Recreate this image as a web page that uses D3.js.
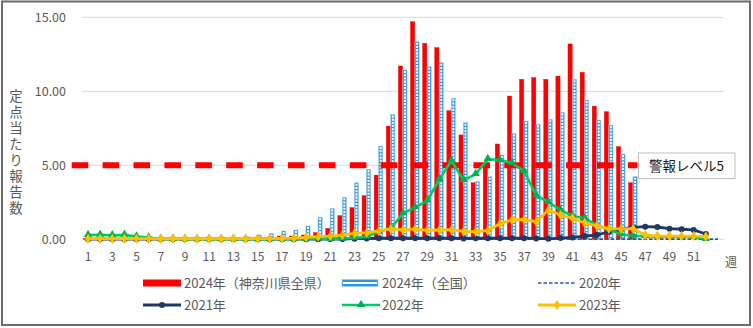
<!DOCTYPE html>
<html><head><meta charset="utf-8">
<script src="https://cdn.jsdelivr.net/npm/d3@7"></script>
<style>
html,body{margin:0;padding:0;background:#fff;}
svg{display:block;font-family:"Noto Sans CJK JP","Noto Sans",sans-serif;}
</style></head>
<body><svg id="c" width="753" height="328"></svg>
<script>
// ---- data ----
const weeks = ["1","2","3","4","5","6","7","8","9","10","11","12","13","14","15","16","17","18","19","20","21","22","23","24","25","26","27","28","29","30","31","32","33","34","35","36","37","38","39","40","41","42","43","44","45","46","47","48","49","50","51","52","53"];
const tickLabels = ["1","3","5","7","9","11","13","15","17","19","21","23","25","27","29","31","33","35","37","39","41","43","45","47","49","51"];
const yTicks = [0,5,10,15];
const alertLevel = 5;
const alertLabel = "警報レベル5";
const yTitle = "定点当たり報告数";
const xUnit = "週";

const kanagawa2024 = [0.05,0.05,0.04,0.05,0.03,0.03,0.02,0.03,0.02,0.03,0.03,0.04,0.05,0.06,0.08,0.12,0.22,0.22,0.29,0.45,0.74,1.60,2.14,2.95,4.34,7.65,11.71,14.70,13.24,12.95,8.69,7.05,3.82,4.95,6.44,9.68,10.81,10.92,10.81,11.03,13.20,11.28,9.00,8.62,6.26,3.82];
const national2024 = [0.10,0.08,0.07,0.07,0.06,0.06,0.05,0.06,0.06,0.07,0.08,0.10,0.13,0.18,0.29,0.40,0.56,0.63,0.90,1.49,2.09,2.84,3.82,4.73,6.30,8.44,11.44,13.35,11.66,11.93,9.53,7.88,3.90,4.23,5.70,7.16,7.99,7.77,8.11,8.58,10.81,9.41,8.06,7.72,5.76,4.23];
const y2020 = [0.03,0.03,0.02,0.03,0.02,0.02,0.02,0.01,0.01,0.01,0.01,0.01,0.01,0.00,0.00,0.00,0.00,0.00,0.00,0.00,0.00,0.00,0.00,0.00,0.00,0.00,0.00,0.00,0.00,0.00,0.00,0.00,0.00,0.00,0.00,0.00,0.00,0.00,0.00,0.00,0.00,0.00,0.01,0.01,0.01,0.01,0.01,0.01,0.01,0.01,0.01,0.01,0.01];
const y2021 = [0.01,0.01,0.01,0.01,0.01,0.01,0.01,0.01,0.01,0.01,0.01,0.01,0.01,0.01,0.01,0.01,0.01,0.01,0.01,0.01,0.02,0.02,0.04,0.05,0.07,0.07,0.07,0.07,0.07,0.07,0.07,0.06,0.07,0.07,0.07,0.07,0.07,0.06,0.03,0.08,0.13,0.22,0.29,0.51,0.70,0.81,0.85,0.83,0.72,0.68,0.63,0.36];
const y2022 = [0.29,0.30,0.27,0.30,0.18,0.12,0.04,0.03,0.02,0.02,0.02,0.02,0.02,0.02,0.02,0.02,0.02,0.02,0.03,0.05,0.03,0.05,0.10,0.18,0.51,0.74,1.76,2.16,2.61,4.05,5.31,4.00,4.40,5.42,5.36,5.15,4.60,2.96,2.52,1.98,1.58,1.42,0.95,0.68,0.33,0.24,0.22,0.18,0.18,0.17,0.16,0.02];
const y2023 = [0.04,0.04,0.04,0.04,0.04,0.04,0.03,0.03,0.03,0.03,0.03,0.03,0.03,0.04,0.04,0.05,0.06,0.08,0.13,0.18,0.22,0.29,0.40,0.45,0.57,0.70,0.63,0.70,0.60,0.63,0.65,0.53,0.51,0.60,1.05,1.32,1.33,1.19,1.98,1.64,1.42,1.10,0.90,0.72,0.70,0.72,0.29,0.22,0.22,0.22,0.22,0.18];

const legendItems = [
  {key:"kan", label:"2024年（神奈川県全県）"},
  {key:"nat", label:"2024年（全国）"},
  {key:"y2020", label:"2020年"},
  {key:"y2021", label:"2021年"},
  {key:"y2022", label:"2022年"},
  {key:"y2023", label:"2023年"}
];

// ---- layout ----
const svg = d3.select("#c");
const W = 753, H = 328;
const plot = {left:82, right:724, top:17.3, bottom:239.3};
const txtColor = "#595959";

svg.append("rect").attr("x",0).attr("y",0).attr("width",W).attr("height",H).attr("fill","#fff");
svg.append("rect").attr("x",2).attr("y",1.5).attr("width",748).attr("height",323.5)
  .attr("fill","none").attr("stroke","#6b6b6b").attr("stroke-width",2);

const x = d3.scaleBand().domain(weeks).range([plot.left, plot.right]).padding(0);
const y = d3.scaleLinear().domain([0,15]).range([plot.bottom, plot.top]);
const sub = d3.scaleBand().domain(["kan","nat"]).range([-4.6, 4.0]).paddingInner(0.05);
const cx = w => x(w) + x.bandwidth()/2;

// gridlines
svg.append("g").selectAll("line").data(yTicks).join("line")
  .attr("x1",plot.left).attr("x2",plot.right)
  .attr("y1",d=>y(d)).attr("y2",d=>y(d))
  .attr("stroke","#d9d9d9").attr("stroke-width",1);

// y axis
const ya = svg.append("g").attr("transform",`translate(${plot.left},0)`)
  .call(d3.axisLeft(y).tickValues(yTicks).tickFormat(d3.format(".2f")).tickSize(0).tickPadding(16));
ya.select(".domain").remove();
ya.selectAll("text").attr("fill",txtColor).attr("font-size",12.5).attr("font-family","'Noto Sans CJK JP',sans-serif");

// x axis
const xa = svg.append("g").attr("transform",`translate(0,${plot.bottom})`)
  .call(d3.axisBottom(x).tickValues(tickLabels).tickSize(0).tickPadding(13));
xa.select(".domain").remove();
xa.selectAll("text").attr("fill",txtColor).attr("font-size",12).attr("font-family","'Noto Sans CJK JP',sans-serif");

svg.append("text").attr("x",731).attr("y",267).attr("text-anchor","middle")
  .attr("fill",txtColor).attr("font-size",12).text(xUnit);

// y title (vertical)
svg.append("text").attr("x",16).attr("y",153)
  .attr("text-anchor","middle")
  .style("writing-mode","vertical-rl")
  .style("letter-spacing","2.4px")
  .attr("fill",txtColor).attr("font-size",13.5).text(yTitle);

// bars
const kanData = kanagawa2024.map((v,i)=>({w:weeks[i],v}));
const natData = national2024.map((v,i)=>({w:weeks[i],v}));
svg.append("g").selectAll("rect").data(kanData).join("rect")
  .attr("x",d=>cx(d.w)+sub("kan")).attr("width",sub.bandwidth())
  .attr("y",d=>y(d.v)).attr("height",d=>y(0)-y(d.v))
  .attr("fill","#ff0000").attr("stroke","#e00000").attr("stroke-width",0.4);
const ng = svg.append("g");
ng.selectAll("rect").data(natData).join("rect")
  .attr("x",d=>cx(d.w)+sub("nat")).attr("width",sub.bandwidth())
  .attr("y",d=>y(d.v)).attr("height",d=>y(0)-y(d.v))
  .attr("fill","#2e96de").attr("stroke","#9ccbf0").attr("stroke-width",0.6);
ng.selectAll("line").data(natData.filter(d=>y(0)-y(d.v)>2)).join("line")
  .attr("x1",d=>cx(d.w)+sub("nat")+sub.bandwidth()/2).attr("x2",d=>cx(d.w)+sub("nat")+sub.bandwidth()/2)
  .attr("y1",d=>y(d.v)+1).attr("y2",d=>y(0))
  .attr("stroke","#fff").attr("stroke-width",2).attr("stroke-dasharray","2.1,1.1");

// alert level dashed line + label box
const alertX1 = plot.left - 10.3, alertX2 = 637.5;
svg.append("line").attr("x1",alertX1).attr("x2",alertX2)
  .attr("y1",y(alertLevel)).attr("y2",y(alertLevel))
  .attr("stroke","#ff0000").attr("stroke-width",6).attr("stroke-dasharray","16.6,14.3");
svg.append("rect").attr("x",638.5).attr("y",153).attr("width",96.5).attr("height",25.5)
  .attr("fill","#fff").attr("stroke","#bfbfbf").attr("stroke-width",1);
svg.append("text").attr("x",686.5).attr("y",170.5).attr("text-anchor","middle")
  .attr("fill","#1a1a1a").attr("font-size",13.5).text(alertLabel);

// lines
const line = d3.line().x(d=>cx(d.w)).y(d=>y(d.v));
function series(vals){ return vals.map((v,i)=>({w:weeks[i],v})); }
const d2020 = series(y2020), d2021 = series(y2021), d2022 = series(y2022), d2023 = series(y2023);

svg.append("path").datum(d2020).attr("d",line).attr("fill","none")
  .attr("stroke","#2f5597").attr("stroke-width",1.6).attr("stroke-dasharray","3.5,2");

svg.append("path").datum(d2021).attr("d",line).attr("fill","none")
  .attr("stroke","#1f3864").attr("stroke-width",2.8);
svg.append("g").selectAll("circle").data(d2021).join("circle")
  .attr("cx",d=>cx(d.w)).attr("cy",d=>y(d.v)).attr("r",3).attr("fill","#1f3864");

svg.append("path").datum(d2022).attr("d",line).attr("fill","none")
  .attr("stroke","#00cc66").attr("stroke-width",2.6);
const tri = d3.symbol().type(d3.symbolTriangle).size(30);
svg.append("g").selectAll("path").data(d2022).join("path")
  .attr("transform",d=>`translate(${cx(d.w)},${y(d.v)-0.5})`).attr("d",tri).attr("fill","#00b050");

svg.append("path").datum(d2023).attr("d",line).attr("fill","none")
  .attr("stroke","#ffc000").attr("stroke-width",2.8);
const dia = d3.symbol().type(d3.symbolDiamond).size(32);
svg.append("g").selectAll("path").data(d2023).join("path")
  .attr("transform",d=>`translate(${cx(d.w)},${y(d.v)})`).attr("d",dia).attr("fill","#ffc000");

// legend
const legPos = [
  {sx:143, tx:184, y:283}, {sx:342, tx:382, y:283}, {sx:538, tx:579, y:283},
  {sx:143, tx:184, y:305}, {sx:342, tx:382, y:305}, {sx:538, tx:579, y:305}
];
const sw = 38;
const lg = svg.append("g");
legendItems.forEach((it,i)=>{
  const p = legPos[i];
  const g = lg.append("g");
  if(it.key==="kan"){
    g.append("rect").attr("x",p.sx).attr("y",p.y-3.5).attr("width",sw).attr("height",7).attr("fill","#ff0000");
  } else if(it.key==="nat"){
    g.append("rect").attr("x",p.sx).attr("y",p.y-3.5).attr("width",sw-2).attr("height",7).attr("fill","#2e96de").attr("stroke","#9ccbf0").attr("stroke-width",0.6);
    g.append("rect").attr("x",p.sx+1).attr("y",p.y-1).attr("width",sw-4).attr("height",2).attr("fill","#fff");
  } else if(it.key==="y2020"){
    g.append("line").attr("x1",p.sx).attr("x2",p.sx+sw).attr("y1",p.y).attr("y2",p.y)
      .attr("stroke","#2f5597").attr("stroke-width",1.6).attr("stroke-dasharray","3.5,2");
  } else if(it.key==="y2021"){
    g.append("line").attr("x1",p.sx).attr("x2",p.sx+sw).attr("y1",p.y).attr("y2",p.y).attr("stroke","#1f3864").attr("stroke-width",2.8);
    g.append("circle").attr("cx",p.sx+sw/2).attr("cy",p.y).attr("r",3).attr("fill","#1f3864");
  } else if(it.key==="y2022"){
    g.append("line").attr("x1",p.sx).attr("x2",p.sx+sw).attr("y1",p.y).attr("y2",p.y).attr("stroke","#00cc66").attr("stroke-width",2.6);
    g.append("path").attr("transform",`translate(${p.sx+sw/2},${p.y-0.5})`).attr("d",tri).attr("fill","#00b050");
  } else {
    g.append("line").attr("x1",p.sx).attr("x2",p.sx+sw).attr("y1",p.y).attr("y2",p.y).attr("stroke","#ffc000").attr("stroke-width",2.8);
    g.append("path").attr("transform",`translate(${p.sx+sw/2},${p.y})`).attr("d",dia).attr("fill","#ffc000");
  }
  g.append("text").attr("x",p.tx).attr("y",p.y+4.5).attr("fill",txtColor).attr("font-size",13).text(it.label);
});
</script></body></html>
